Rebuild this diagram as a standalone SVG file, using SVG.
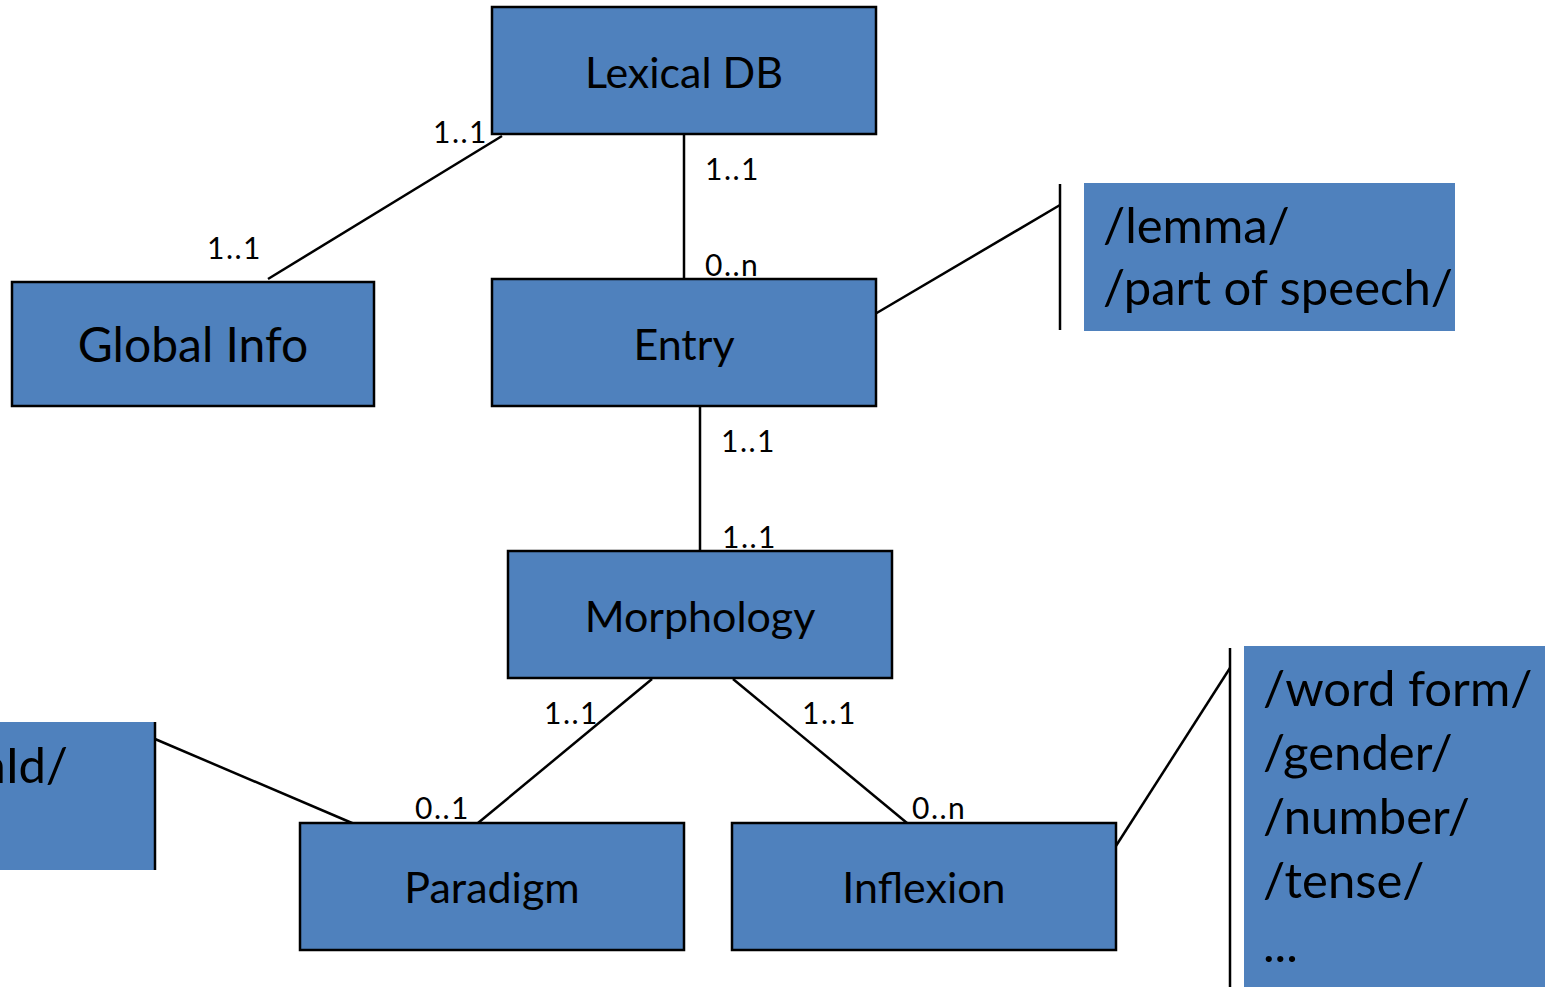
<svg xmlns="http://www.w3.org/2000/svg" width="1545" height="987" viewBox="0 0 1545 987">
<style>
.node{fill:#4F81BD;stroke:#000;stroke-width:2.5}
.attr{fill:#4F81BD}
.lbl{font-family:Lato,"Liberation Sans",sans-serif;font-size:43px;fill:#000;text-anchor:middle}
.att{font-family:Lato,"Liberation Sans",sans-serif;font-size:49px;fill:#000}
.card{font-family:Lato,"Liberation Sans",sans-serif;font-size:30px;letter-spacing:1.5px;fill:#000}
.con{stroke:#000;stroke-width:2.5;fill:none}
</style>
<rect width="1545" height="987" fill="#fff"/>
<g id="connectors">
<line class="con" x1="502" y1="136" x2="268" y2="279"/>
<line class="con" x1="684" y1="134" x2="684" y2="279"/>
<line class="con" x1="875" y1="314" x2="1060" y2="205"/>
<line class="con" x1="700" y1="406" x2="700" y2="551"/>
<line class="con" x1="652" y1="679" x2="478" y2="823"/>
<line class="con" x1="733" y1="679" x2="907" y2="823"/>
<line class="con" x1="1114" y1="849" x2="1230" y2="668"/>
<line class="con" x1="155" y1="739" x2="359" y2="826"/>
<text class="card" x="433" y="143">1..1</text>
<text class="card" x="207" y="259">1..1</text>
<text class="card" x="705" y="180">1..1</text>
<text class="card" x="705" y="276">0..n</text>
<text class="card" x="721" y="452">1..1</text>
<text class="card" x="722" y="548">1..1</text>
<text class="card" x="544" y="724">1..1</text>
<text class="card" x="415" y="819">0..1</text>
<text class="card" x="802" y="724">1..1</text>
<text class="card" x="912" y="819">0..n</text>
</g>
<g id="lexicaldb">
<rect class="node" x="492" y="7" width="384" height="127"/>
<text class="lbl" x="684" y="88">Lexical DB</text>
</g>
<g id="globalinfo">
<rect class="node" x="12" y="282" width="362" height="124"/>
<text class="lbl" x="193" y="362" style="font-size:48px">Global Info</text>
</g>
<g id="entry">
<rect class="node" x="492" y="279" width="384" height="127"/>
<text class="lbl" x="684" y="360">Entry</text>
</g>
<g id="morphology">
<rect class="node" x="508" y="551" width="384" height="127"/>
<text class="lbl" x="700" y="632">Morphology</text>
</g>
<g id="paradigm">
<rect class="node" x="300" y="823" width="384" height="127"/>
<text class="lbl" x="492" y="903">Paradigm</text>
</g>
<g id="inflexion">
<rect class="node" x="732" y="823" width="384" height="127"/>
<text class="lbl" x="924" y="903">Inflexion</text>
</g>
<g id="entry-attrs">
<line class="con" x1="1060" y1="184" x2="1060" y2="330"/>
<rect class="attr" x="1084" y="183" width="371" height="148"/>
<text class="att" x="1103" y="243">/lemma/</text>
<text class="att" x="1103" y="305">/part of speech/</text>
</g>
<g id="inflexion-attrs">
<line class="con" x1="1230" y1="648" x2="1230" y2="987"/>
<rect class="attr" x="1244" y="646" width="301" height="341"/>
<text class="att" x="1263" y="706">/word form/</text>
<text class="att" x="1263" y="770">/gender/</text>
<text class="att" x="1263" y="834">/number/</text>
<text class="att" x="1263" y="898">/tense/</text>
<text class="att" x="1263" y="962">...</text>
</g>
<g id="paradigm-attrs">
<rect class="attr" x="0" y="722" width="155" height="148"/>
<line class="con" x1="155" y1="722" x2="155" y2="870"/>
<text class="att" x="68" y="783" text-anchor="end">/paradigmId/</text>
</g>
</svg>
